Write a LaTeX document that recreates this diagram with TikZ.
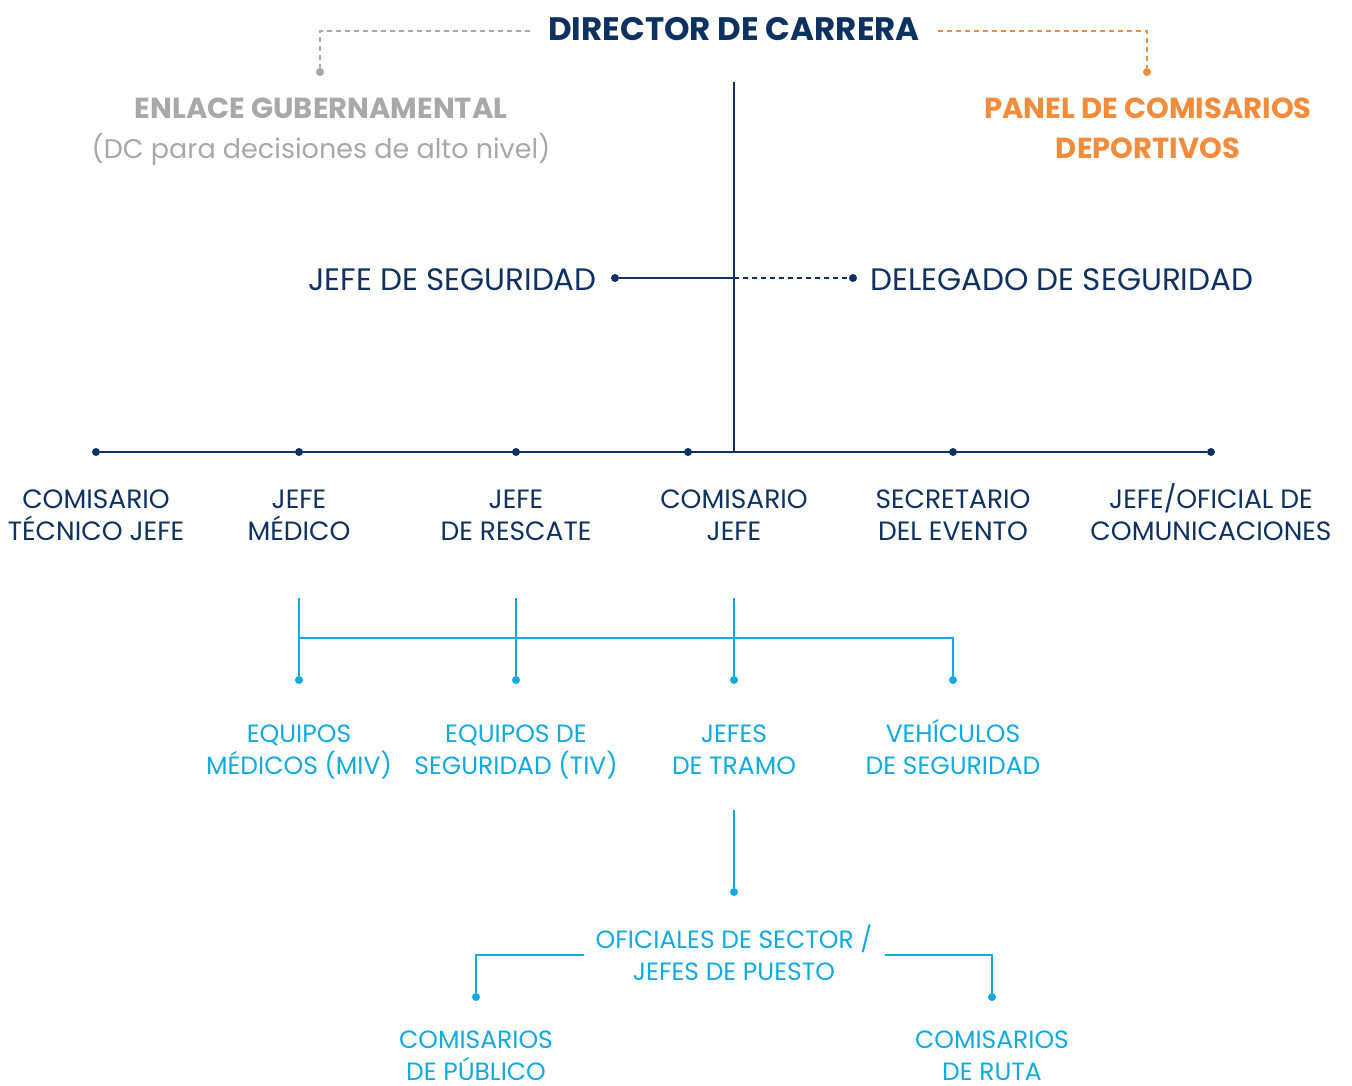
\documentclass[tikz,border=0pt]{standalone}
\usepackage{fontspec}
\setmainfont{Poppins}
\usepackage{tikz}
\usepackage{xcolor}
\usetikzlibrary{positioning}

\definecolor{navy}{HTML}{0D3262}
\definecolor{sky}{HTML}{12A9E1}
\definecolor{tang}{HTML}{F28B3C}
\definecolor{ash}{HTML}{A8A8A8}

\begin{document}
\begin{tikzpicture}[
  x=1pt, y=-1pt,
  lbl/.style={align=center, inner sep=0pt, anchor=base, font=\fontsize{25}{32}\selectfont},
  rowlbl/.style={lbl, text=navy, font=\fontsize{26.5}{32}\selectfont},
  head/.style={inner sep=0pt, anchor=base, font=\bfseries\fontsize{32.5}{36}\selectfont},
  dot/.style={circle, fill, inner sep=0pt, minimum size=8pt},
  link/.style={line width=1.4pt},
  dashlink/.style={link, dash pattern=on 5pt off 4pt}
]
\useasboundingbox (0,0) rectangle (1352,1086);

% top (two-line labels sit on the baseline of their last line)
\node (dir) [head, text=navy] at (734,41) {DIRECTOR DE CARRERA};
\node (gob) [lbl, text=ash, font=\bfseries\fontsize{29}{40}\selectfont] at (321,159)
  {ENLACE GUBERNAMENTAL\\\mdseries\fontsize{27}{40}\selectfont(DC para decisiones de alto nivel)};
\node (panel) [lbl, text=tang, font=\bfseries\fontsize{29}{40}\selectfont] at (1148,159)
  {PANEL DE COMISARIOS\\DEPORTIVOS};

\node (gobdot) [dot, ash] at (320,72) {};
\node (paneldot) [dot, tang] at (1147,72) {};
\draw [ash, dashlink] ([shift={(-18,-10)}]dir.base west) -| (gobdot);
\draw [tang, dashlink] ([shift={(18,-10)}]dir.base east) -| (paneldot);

% spine
\coordinate (top) at (734,82);
\coordinate (bus) at (734,452);
\draw [navy, link] (top) -- (bus);

\node (segdot) [dot, navy] at (615,278) {};
\node (deldot) [dot, navy] at (853,278) {};
\coordinate (mid) at (734,278);
\draw [navy, link] (segdot) -- (mid);
\draw [navy, dashlink] (mid) -- (deldot);
\node (seg) [lbl, text=navy, anchor=base east, font=\fontsize{31}{32}\selectfont] at (597,290) {JEFE DE SEGURIDAD};
\node (del) [lbl, text=navy, anchor=base west, font=\fontsize{31}{32}\selectfont] at (870,290) {DELEGADO DE SEGURIDAD};

% row of chiefs
\node (d1) [dot, navy] at (96,452) {};
\node (d2) [dot, navy] at (299,452) {};
\node (d3) [dot, navy] at (516,452) {};
\node (d4) [dot, navy] at (688,452) {};
\node (d5) [dot, navy] at (953,452) {};
\node (d6) [dot, navy] at (1211,452) {};
\draw [navy, link] (d1) -- (d6);

\node (tec) [rowlbl] at (96,540) {COMISARIO\\TÉCNICO JEFE};
\node (med) [rowlbl] at (299,540) {JEFE\\MÉDICO};
\node (res) [rowlbl] at (516,540) {JEFE\\DE RESCATE};
\node (com) [rowlbl] at (734,540) {COMISARIO\\JEFE};
\node (sec) [rowlbl] at (953,540) {SECRETARIO\\DEL EVENTO};
\node (cmn) [rowlbl] at (1211,540) {JEFE/OFICIAL DE\\COMUNICACIONES};

% teams
\node (e1) [dot, sky] at (299,680) {};
\node (e2) [dot, sky] at (516,680) {};
\node (e3) [dot, sky] at (734,680) {};
\node (e4) [dot, sky] at (953,680) {};
\coordinate (med-s) at (299,598);
\coordinate (res-s) at (516,598);
\coordinate (com-s) at (734,598);
\coordinate (sec-b) at (953,638);
\draw [sky, link] (med-s) -- (e1);
\draw [sky, link] (res-s) -- (e2);
\draw [sky, link] (com-s) -- (e3);
\draw [sky, link] (med-s |- sec-b) -- (sec-b) -- (e4);

\node (miv) [lbl, text=sky] at (299,774) {EQUIPOS\\MÉDICOS (MIV)};
\node (tiv) [lbl, text=sky] at (516,774) {EQUIPOS DE\\SEGURIDAD (TIV)};
\node (tra) [lbl, text=sky] at (734,774) {JEFES\\DE TRAMO};
\node (veh) [lbl, text=sky] at (953,774) {VEHÍCULOS\\DE SEGURIDAD};

% sectors
\coordinate (tra-s) at (734,810);
\node (odot) [dot, sky] at (734,892) {};
\draw [sky, link] (tra-s) -- (odot);
\node (ofi) [lbl, text=sky] at (734,980) {OFICIALES DE SECTOR /\\JEFES DE PUESTO};

\node (p1) [dot, sky] at (476,997) {};
\node (p2) [dot, sky] at (992,997) {};
\coordinate (ofi-w) at (584,955);
\coordinate (ofi-e) at (885,955);
\draw [sky, link] (ofi-w) -| (p1);
\draw [sky, link] (ofi-e) -| (p2);

\node (pub) [lbl, text=sky] at (476,1080) {COMISARIOS\\DE PÚBLICO};
\node (rut) [lbl, text=sky] at (992,1080) {COMISARIOS\\DE RUTA};

\end{tikzpicture}
\end{document}
